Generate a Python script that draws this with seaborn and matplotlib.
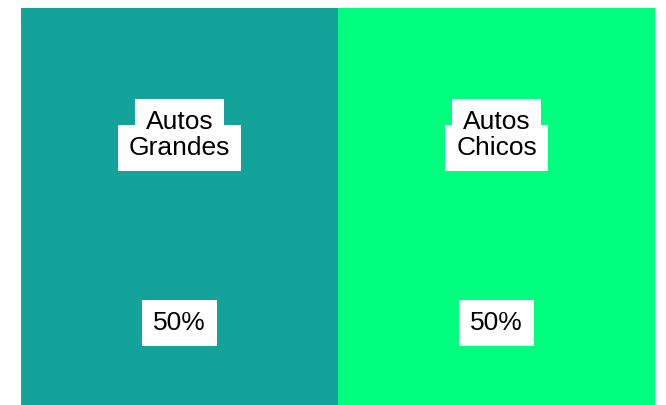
import matplotlib
matplotlib.use("Agg")
import matplotlib.pyplot as plt
import matplotlib.transforms as mtransforms
import pandas as pd
import seaborn as sns

# Market share of car sizes
categories = ["Autos Grandes", "Autos Chicos"]
label_lines = [["Autos", "Grandes"], ["Autos", "Chicos"]]
shares = [50, 50]
colors = ["#14A39B", "#00FF7F"]

df = pd.DataFrame({"categoria": categories, "participacion": shares})

sns.set_theme(style="white")
plt.rcParams["font.family"] = ["Liberation Sans", "DejaVu Sans"]

fig = plt.figure(figsize=(6.66, 4.05), dpi=100)
W, H = 666, 405
ax = fig.add_axes([21 / W, 0, (655 - 21) / W, (405 - 8) / H])

sns.barplot(data=df, x="categoria", y="participacion", hue="categoria",
            palette=colors, width=1.0, saturation=1, legend=False,
            edgecolor="none", linewidth=0, ax=ax)
ax.set_xlim(-0.5, len(categories) - 0.5)
ax.set_ylim(0, max(shares))
ax.set_axis_off()

trans = mtransforms.blended_transform_factory(ax.transData, ax.transAxes)
axh = 405 - 8


def ypos(pix):
    return 1 - (pix - 8) / axh


def boxed_text(x, y, s, pad):
    # white box drawn underneath, text on top so stacked boxes never hide a line
    ax.text(x, y, s, transform=trans, ha="center", va="baseline",
            fontsize=19, color="none", zorder=4,
            bbox=dict(boxstyle=f"square,pad={pad}", facecolor="white",
                      edgecolor="none"))
    ax.text(x, y, s, transform=trans, ha="center", va="baseline",
            fontsize=19, color="black", zorder=6)


for i, (lines, val) in enumerate(zip(label_lines, shares)):
    boxed_text(i, ypos(129), lines[0], 0.42)
    boxed_text(i, ypos(155), lines[1], 0.42)
    boxed_text(i, ypos(330), f"{val}%", 0.42)

fig.savefig("out.png", dpi=100, facecolor="white")
